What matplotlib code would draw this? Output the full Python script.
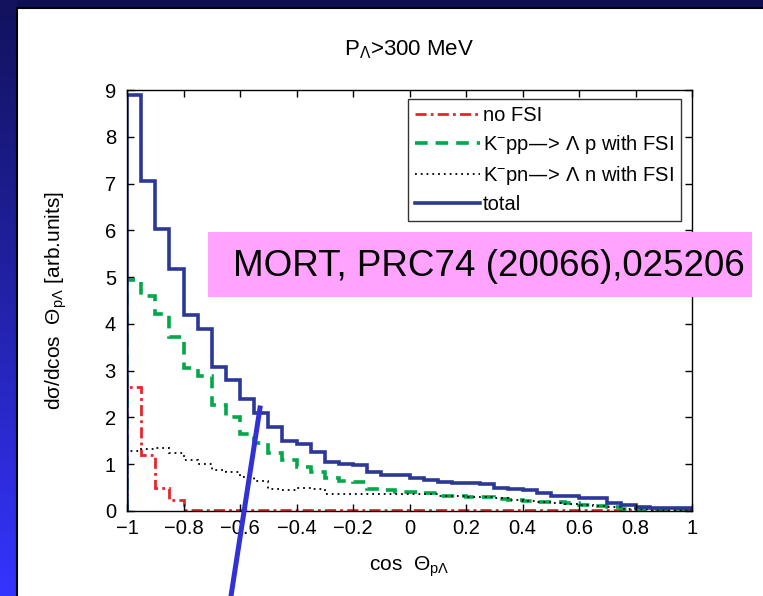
import numpy as np
import matplotlib
matplotlib.use("Agg")
import matplotlib.pyplot as plt
from matplotlib.patches import Rectangle
from matplotlib.lines import Line2D

plt.rcParams['font.family'] = ['Liberation Sans', 'DejaVu Sans']
plt.rcParams['mathtext.default'] = 'regular'

# bin edges of cos(theta), 0.05 wide
bin_edges = np.round(np.arange(-1.0, 1.0001, 0.05), 2)

no_fsi = [2.66, 1.19, 0.50, 0.23, 0.03, 0.02, 0.02, 0.02, 0.02, 0.02,
          0.02, 0.02, 0.02, 0.02, 0.02, 0.02, 0.02, 0.02, 0.02, 0.02,
          0.02, 0.02, 0.02, 0.02, 0.02, 0.02, 0.02, 0.02, 0.02, 0.02,
          0.02, 0.02, 0.02, 0.02, 0.02, 0.02, 0.02, 0.02, 0.02, 0.02]
kpp_fsi = [4.94, 4.60, 4.21, 3.71, 3.06, 2.89, 2.27, 2.00, 1.65, 1.45,
           1.23, 1.08, 0.93, 0.84, 0.71, 0.64, 0.62, 0.47, 0.44, 0.41,
           0.41, 0.38, 0.33, 0.32, 0.30, 0.30, 0.25, 0.23, 0.22, 0.20,
           0.19, 0.18, 0.12, 0.10, 0.08, 0.05, 0.05, 0.04, 0.04, 0.04]
kpn_fsi = [1.29, 1.32, 1.34, 1.23, 1.09, 1.00, 0.88, 0.84, 0.73, 0.65,
           0.48, 0.44, 0.50, 0.48, 0.37, 0.36, 0.36, 0.36, 0.36, 0.37,
           0.36, 0.36, 0.33, 0.32, 0.30, 0.30, 0.27, 0.24, 0.22, 0.20,
           0.18, 0.16, 0.12, 0.10, 0.08, 0.05, 0.04, 0.03, 0.03, 0.03]
total = [8.90, 7.05, 6.03, 5.17, 4.19, 3.89, 3.07, 2.81, 2.39, 2.09,
         1.80, 1.49, 1.44, 1.26, 1.04, 1.00, 0.98, 0.84, 0.76, 0.76,
         0.70, 0.66, 0.62, 0.60, 0.59, 0.58, 0.50, 0.46, 0.44, 0.38,
         0.32, 0.31, 0.28, 0.27, 0.18, 0.12, 0.09, 0.07, 0.07, 0.07]

xticks = [-1, -0.8, -0.6, -0.4, -0.2, 0, 0.2, 0.4, 0.6, 0.8, 1]
xticklabels = ['\u22121', '\u22120.8', '\u22120.6', '\u22120.4', '\u22120.2',
               '0', '0.2', '0.4', '0.6', '0.8', '1']
yticks = list(range(10))

W, H = 763, 596
fig = plt.figure(figsize=(W / 100, H / 100), dpi=100)
fig.patch.set_facecolor('#0e0e52')

# slide background: gradient strip on the left, white panel
bg = fig.add_axes([0, 0, 1, 1], zorder=-10)
bg.set_xlim(0, W)
bg.set_ylim(H, 0)
bg.axis('off')
grad = np.linspace(0, 1, 200).reshape(-1, 1)
cmap = matplotlib.colors.LinearSegmentedColormap.from_list(
    'strip', ['#12125e', '#2222a8', '#3434ff'])
bg.imshow(grad, cmap=cmap, extent=(0, 17, H, 0), aspect='auto')
bg.add_patch(Rectangle((17, 8), W - 17 + 5, H, facecolor='white',
                       edgecolor='black', lw=1.5))

ax = fig.add_axes([127 / W, 1 - 511 / H, 565 / W, 421 / H])
ax.stairs(no_fsi, bin_edges, color='#e8242c', lw=2.0,
          linestyle=(0, (4, 1.5, 1, 1.5)), label='no FSI')
ax.stairs(kpp_fsi, bin_edges, color='#00a84a', lw=2.6,
          linestyle=(0, (3.5, 2.2)), label='K$^{-}$pp\u2014> \u039b p with FSI')
ax.stairs(kpn_fsi, bin_edges, color='black', lw=1.3,
          linestyle=(0, (1, 2.2)), label='K$^{-}$pn\u2014> \u039b n with FSI')
ax.stairs(total, bin_edges, color='#2c3896', lw=2.6, label='total')

ax.set_xlim(-1, 1)
ax.set_ylim(0, 9)
ax.set_xticks(xticks)
ax.set_xticklabels(xticklabels)
ax.set_yticks(yticks)
ax.tick_params(direction='in', top=True, right=True, length=5,
               labelsize=14.5, width=1)
ax.tick_params(axis='x', pad=6)
ax.tick_params(axis='y', pad=8)
for s in ax.spines.values():
    s.set_linewidth(1.0)

ax.set_title('P$_{\u039b}$>300 MeV', fontsize=16, pad=25)
ax.set_xlabel('cos  \u0398$_{p\u039b}$', fontsize=15, labelpad=12)
ax.set_ylabel('d\u03c3/dcos  \u0398$_{p\u039b}$ [arb.units]', fontsize=15,
              labelpad=26)

leg = ax.legend(loc='upper right', bbox_to_anchor=(0.98, 0.979),
                borderaxespad=0, fontsize=14.5, frameon=True, fancybox=False,
                handlelength=3.2, handletextpad=0.15, labelspacing=0.4,
                borderpad=0.35)
leg.get_frame().set_edgecolor('black')
leg.get_frame().set_linewidth(1.0)

# reference label box
fig.patches.append(Rectangle((208 / W, 1 - 297 / H), 544 / W, 65 / H,
                             transform=fig.transFigure, facecolor='#ffa3ff',
                             edgecolor='none', zorder=5))
fig.text(489 / W, 1 - 266 / H, 'MORT, PRC74 (20066),025206', fontsize=26.5,
         ha='center', va='center', color='black', zorder=6)

# pointer line
fig.add_artist(Line2D([260 / W, 231 / W], [1 - 408 / H, 0],
                      transform=fig.transFigure, color='#3131d6', lw=3.6,
                      zorder=7))

fig.savefig('out.png', dpi=100)
